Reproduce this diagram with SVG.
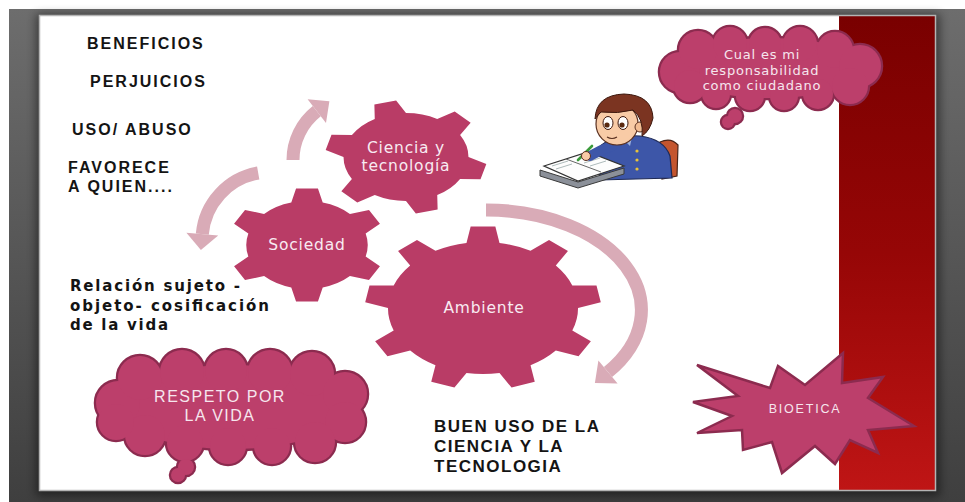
<svg xmlns="http://www.w3.org/2000/svg" width="965" height="502" viewBox="0 0 965 502">
<defs>
<style>
  .cap{font-family:"Liberation Sans",Arial,sans-serif;font-weight:bold;font-size:16px;letter-spacing:2px;fill:#141414}
  .cap2{font-family:"Liberation Sans",Arial,sans-serif;font-weight:bold;font-size:17px;letter-spacing:1.5px;fill:#141414}
  .prose{font-family:"DejaVu Sans",Verdana,sans-serif;font-weight:bold;font-size:15px;fill:#141414}
  .gear{fill:#b93c66}
  .gear-txt{font-family:"DejaVu Sans",Verdana,sans-serif;font-size:15.5px;letter-spacing:0.8px;fill:#f8ebf2;text-anchor:middle}
  .outline{fill:#8c2b4f;stroke:#8c2b4f;stroke-width:4.5}
  .inside{fill:#bc3f6b;stroke:none}
  .think-txt{font-family:"DejaVu Sans",Verdana,sans-serif;font-size:13px;letter-spacing:0.8px;fill:#f6e6ee;text-anchor:middle}
  .big-txt{font-family:"Liberation Sans",Arial,sans-serif;font-size:16px;letter-spacing:1.5px;fill:#f6e6ee;text-anchor:middle}
  .flow{fill:none;stroke:#d9abb7;stroke-width:13}
  .flow-head{fill:#d9abb7}
</style>
<linearGradient id="frameGrad" x1="0" y1="0" x2="0" y2="1">
  <stop offset="0" stop-color="#6d6d6d"/>
  <stop offset="1" stop-color="#3f3f3f"/>
</linearGradient>
<linearGradient id="bandGrad" x1="0" y1="0" x2="0" y2="1">
  <stop offset="0" stop-color="#790000"/>
  <stop offset="0.5" stop-color="#960606"/>
  <stop offset="1" stop-color="#bf1515"/>
</linearGradient>
<filter id="soft" x="-5%" y="-5%" width="110%" height="110%">
  <feGaussianBlur stdDeviation="5"/>
</filter>
<!-- thought-bubble silhouettes, drawn twice: once stroked, once filled on top -->
<g id="cloud-top">
  <ellipse cx="770" cy="68" rx="95" ry="30"/>
  <circle cx="680" cy="72" r="20"/>
  <circle cx="698" cy="50" r="19"/>
  <circle cx="730" cy="44" r="17"/>
  <circle cx="765" cy="44" r="16"/>
  <circle cx="800" cy="44" r="17"/>
  <circle cx="835" cy="50" r="18"/>
  <circle cx="860" cy="66" r="21"/>
  <circle cx="850" cy="86" r="18"/>
  <circle cx="818" cy="94" r="15"/>
  <circle cx="784" cy="96" r="14"/>
  <circle cx="750" cy="96" r="14"/>
  <circle cx="716" cy="94" r="14"/>
  <circle cx="690" cy="86" r="16"/>
  <circle cx="735" cy="116" r="7"/>
  <circle cx="728" cy="122" r="6"/>
</g>
<g id="cloud-bottom">
  <ellipse cx="232" cy="407" rx="115" ry="42"/>
  <circle cx="118" cy="403" r="22"/>
  <circle cx="140" cy="378" r="22"/>
  <circle cx="182" cy="372" r="22"/>
  <circle cx="226" cy="371" r="21"/>
  <circle cx="270" cy="372" r="22"/>
  <circle cx="312" cy="374" r="22"/>
  <circle cx="345" cy="394" r="22"/>
  <circle cx="345" cy="422" r="20"/>
  <circle cx="315" cy="442" r="20"/>
  <circle cx="272" cy="446" r="18"/>
  <circle cx="228" cy="446" r="18"/>
  <circle cx="185" cy="443" r="18"/>
  <circle cx="145" cy="435" r="20"/>
  <circle cx="116" cy="422" r="18"/>
  <circle cx="186" cy="467" r="8"/>
  <circle cx="178" cy="475" r="7"/>
</g>
<path id="gear6" d="M42.50,11.39 L52.85,21.35 L44.92,35.09 L31.11,31.11 A44,44 0 0 1 11.39,42.50 L7.93,56.45 L-7.93,56.45 L-11.39,42.50 A44,44 0 0 1 -31.11,31.11 L-44.92,35.09 L-52.85,21.35 L-42.50,11.39 A44,44 0 0 1 -42.50,-11.39 L-52.85,-21.35 L-44.92,-35.09 L-31.11,-31.11 A44,44 0 0 1 -11.39,-42.50 L-7.93,-56.45 L7.93,-56.45 L11.39,-42.50 A44,44 0 0 1 31.11,-31.11 L44.92,-35.09 L52.85,-21.35 L42.50,-11.39 A44,44 0 0 1 42.50,11.39 Z"/>
<path id="gear9" d="M-11.46,-65 L-8.57,-81.55 L8.57,-81.55 L11.46,-65 A66,66 0 0 1 33,-57.16 L45.85,-67.98 L58.99,-56.96 L50.56,-42.42 A66,66 0 0 1 62.02,-22.57 L78.82,-22.60 L81.80,-5.72 L66,0 A66,66 0 0 1 62.02,22.57 L74.91,33.35 L66.34,48.20 L50.56,42.42 A66,66 0 0 1 33,57.16 L35.95,73.70 L19.84,79.56 L11.46,65 A66,66 0 0 1 -11.46,65 L-19.84,79.56 L-35.95,73.70 L-33,57.16 A66,66 0 0 1 -50.56,42.42 L-66.34,48.20 L-74.91,33.35 L-62.02,22.57 A66,66 0 0 1 -66,0 L-81.80,-5.72 L-78.82,-22.60 L-62.02,-22.57 A66,66 0 0 1 -50.56,-42.42 L-58.99,-56.96 L-45.85,-67.98 L-33,-57.16 A66,66 0 0 1 -11.46,-65 Z"/>
</defs>

<!-- window frame and slide -->
<rect x="0" y="0" width="965" height="502" fill="#ffffff"/>
<rect x="9" y="9" width="956" height="493" fill="url(#frameGrad)"/>
<rect x="36" y="14" width="904" height="482" fill="#000" opacity="0.45" filter="url(#soft)"/>
<rect x="39" y="15" width="897" height="476" fill="#ffffff"/>
<rect x="839" y="15" width="97" height="476" fill="url(#bandGrad)"/>
<rect x="39.5" y="15.5" width="896" height="475" fill="none" stroke="#b4b4b4" stroke-width="1.5"/>

<!-- left column notes -->
<g id="notes">
  <text class="cap" x="87" y="49">BENEFICIOS</text>
  <text class="cap" x="90" y="87">PERJUICIOS</text>
  <text class="cap" x="72" y="135">USO/ ABUSO</text>
  <text class="cap" x="68" y="173">FAVORECE</text>
  <text class="cap" x="68" y="192">A QUIEN....</text>
</g>
<g id="relacion">
  <text class="prose" x="70" y="291" textLength="170" lengthAdjust="spacing">Relación sujeto -</text>
  <text class="prose" x="70" y="311" textLength="199" lengthAdjust="spacing">objeto- cosificación</text>
  <text class="prose" x="70" y="330" textLength="98" lengthAdjust="spacing">de la vida</text>
</g>
<g id="buen-uso">
  <text class="cap2" x="434" y="432">BUEN USO DE LA</text>
  <text class="cap2" x="434" y="452">CIENCIA Y LA</text>
  <text class="cap2" x="434" y="472">TECNOLOGIA</text>
</g>

<!-- circular arrows between the gears -->
<g id="connectors">
  <path class="flow" d="M293,160 A62,62 0 0 1 316.8,111.1"/>
  <polygon class="flow-head" points="307.6,99.3 329.4,101.3 326,122.9"/>
  <path class="flow" d="M258.2,173 A68,68 0 0 0 202.3,234.1"/>
  <polygon class="flow-head" points="218.2,235.5 200.9,250 186.4,232.7"/>
  <path class="flow" d="M486,210 A155,100 0 0 1 608,372"/>
  <polygon class="flow-head" points="617.6,383.6 594.9,382.9 598.4,360.5"/>
</g>

<!-- gears -->
<g id="gear-ciencia">
  <use href="#gear6" class="gear" transform="translate(406,157) scale(1.42,1) rotate(-15)"/>
  <text class="gear-txt" x="406" y="153">Ciencia y</text>
  <text class="gear-txt" x="406" y="171">tecnología</text>
</g>
<g id="gear-sociedad">
  <use href="#gear6" class="gear" transform="translate(307,245) scale(1.38,1)"/>
  <text class="gear-txt" x="307" y="250">Sociedad</text>
</g>
<g id="gear-ambiente">
  <use href="#gear9" class="gear" transform="translate(483,308) scale(1.44,1)"/>
  <text class="gear-txt" x="484" y="313">Ambiente</text>
</g>

<!-- thought bubble: citizen responsibility -->
<g id="cloud-responsabilidad">
  <use href="#cloud-top" class="outline"/>
  <use href="#cloud-top" class="inside"/>
  <text class="think-txt" x="762" y="59">Cual es mi</text>
  <text class="think-txt" x="762" y="74.5">responsabilidad</text>
  <text class="think-txt" x="762" y="90">como ciudadano</text>
</g>

<!-- thought bubble: respect for life -->
<g id="cloud-respeto">
  <use href="#cloud-bottom" class="outline"/>
  <use href="#cloud-bottom" class="inside"/>
  <text class="big-txt" x="220" y="402">RESPETO POR</text>
  <text class="big-txt" x="220" y="421">LA VIDA</text>
</g>

<!-- burst: bioethics -->
<g id="burst-bioetica">
  <polygon points="697,365 770,388 778,366 805,385 843,353 842,383 883,377 868,398 914,426 868,430 878,453 850,440 835,464 815,446 782,473 772,442 743,450 742,430 697,433 732,416 693,402 738,396" fill="#bc3f6b" stroke="#8c2b4f" stroke-width="2.5" stroke-linejoin="miter"/>
  <text x="805" y="413" text-anchor="middle" font-family="Liberation Sans, Arial, sans-serif" font-size="12.5" letter-spacing="1.8" fill="#f6e6ee">BIOETICA</text>
</g>

<!-- boy writing at his desk -->
<g id="student">
  <path d="M660,142 Q671,137 678,145 L677,176 L662,179 Z" fill="#c4552e" stroke="#4a2418" stroke-width="1.2"/>
  <path d="M598,148 Q612,134 640,136 Q664,139 670,156 L672,178 L600,180 Z" fill="#3d56a8" stroke="#1f2a55" stroke-width="1.2"/>
  <circle cx="637" cy="151" r="1.6" fill="#e8c23a"/>
  <circle cx="637" cy="160" r="1.6" fill="#e8c23a"/>
  <circle cx="637" cy="169" r="1.6" fill="#e8c23a"/>
  <path d="M540,170 L578,182 L624,168 L624,174 L578,188 L540,176 Z" fill="#8b9099" stroke="#3a3a3a" stroke-width="1"/>
  <path d="M544,166 L588,152 L624,166 L578,181 Z" fill="#fdfdfd" stroke="#333" stroke-width="1.2"/>
  <path d="M566,159 L601,172" stroke="#666" stroke-width="1"/>
  <path d="M552,166 L568,161 M556,169 L572,164 M584,163 L600,158 M590,166 L606,161" stroke="#9aa" stroke-width="0.8"/>
  <path d="M612,146 Q600,150 590,156" stroke="#3d56a8" stroke-width="10" stroke-linecap="round" fill="none"/>
  <line x1="578" y1="160" x2="592" y2="146" stroke="#3b9b3b" stroke-width="2.6" stroke-linecap="round"/>
  <circle cx="586" cy="156" r="4.5" fill="#f8cba6" stroke="#5a3020" stroke-width="1"/>
  <path d="M622,138 L632,137 L630,146 Z" fill="#9fb4e0"/>
  <circle cx="617" cy="124" r="21" fill="#f8cba6" stroke="#5a3020" stroke-width="1.2"/>
  <circle cx="640" cy="127" r="5" fill="#f3bd93" stroke="#5a3020" stroke-width="1"/>
  <path d="M595,119 Q596,95 624,94 Q652,95 653,118 Q650,131 642,136 Q644,119 633,110 Q618,114 601,112 Q597,116 595,119 Z" fill="#7b3421" stroke="#3d180e" stroke-width="1"/>
  <ellipse cx="608" cy="123" rx="5" ry="6.5" fill="#fff" stroke="#3d180e" stroke-width="1"/>
  <ellipse cx="623" cy="123" rx="5" ry="6.5" fill="#fff" stroke="#3d180e" stroke-width="1"/>
  <circle cx="607" cy="125" r="2.6" fill="#5a2a10"/>
  <circle cx="622" cy="125" r="2.6" fill="#5a2a10"/>
  <path d="M607,137 Q612,140 617,137" fill="none" stroke="#5a3020" stroke-width="1.2"/>
</g>
</svg>
